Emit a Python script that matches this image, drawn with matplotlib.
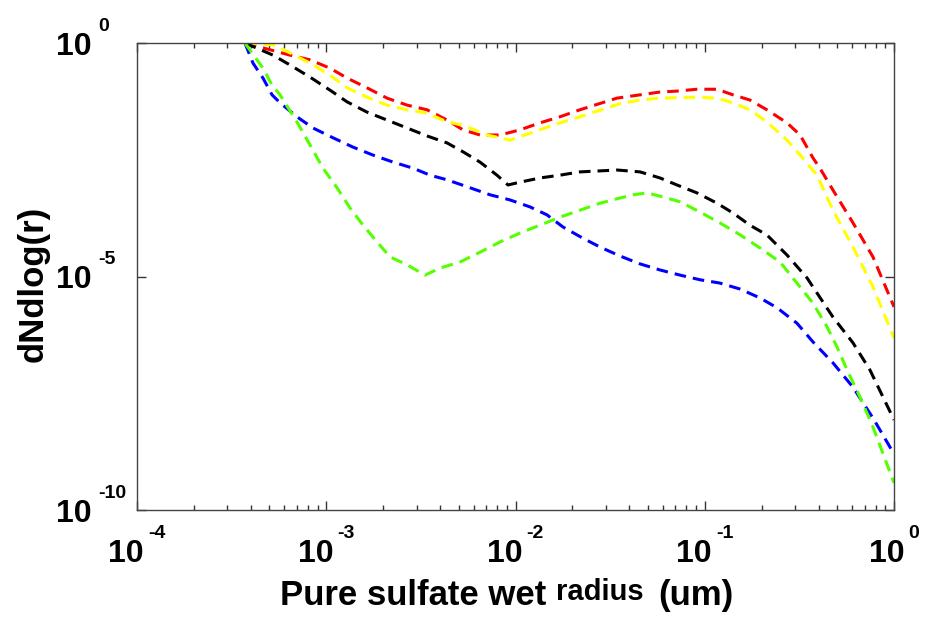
import numpy as np
import matplotlib
matplotlib.use("Agg")
import matplotlib.pyplot as plt

# ---------------- data (radius in um, dNdlog(r) stored as log10 exponents) ----------------
red_r = [3.72e-4, 6.43e-4, 8.20e-4, 1.047e-3, 1.288e-3, 1.642e-3, 2.094e-3, 2.672e-3,
         3.407e-3, 4.35e-3, 5.28e-3, 6.49e-3, 8.28e-3, 1.056e-2, 1.347e-2, 1.718e-2,
         2.19e-2, 3.44e-2, 4.55e-2, 5.80e-2, 7.13e-2, 9.10e-2, 0.116, 0.141, 0.173,
         0.213, 0.272, 0.319, 0.373, 0.406, 0.476, 0.607, 0.774, 1.0]
red_log = [0.0, -0.26, -0.36, -0.54, -0.75, -0.96, -1.18, -1.33,
           -1.43, -1.65, -1.86, -1.97, -1.97, -1.86, -1.71, -1.58,
           -1.43, -1.18, -1.11, -1.05, -1.03, -0.99, -0.99, -1.11, -1.22,
           -1.43, -1.71, -1.97, -2.46, -2.68, -3.15, -3.85, -4.58, -5.65]

yellow_r = [3.72e-4, 5.23e-4, 6.43e-4, 8.20e-4, 1.047e-3, 1.288e-3, 1.642e-3, 2.094e-3,
            2.672e-3, 3.407e-3, 4.35e-3, 5.28e-3, 7.07e-3, 9.35e-3, 1.193e-2, 1.718e-2,
            2.19e-2, 3.56e-2, 4.55e-2, 5.80e-2, 9.10e-2, 0.116, 0.141, 0.173, 0.213,
            0.272, 0.319, 0.392, 0.476, 0.607, 0.774, 1.0]
yellow_log = [0.0, -0.04, -0.21, -0.43, -0.69, -0.96, -1.16, -1.33,
              -1.43, -1.50, -1.69, -1.76, -1.97, -2.08, -1.93, -1.71,
              -1.58, -1.30, -1.22, -1.18, -1.16, -1.18, -1.28, -1.43, -1.69,
              -2.08, -2.40, -2.83, -3.58, -4.37, -5.22, -6.32]

black_r = [3.72e-4, 5.23e-4, 6.43e-4, 8.20e-4, 1.047e-3, 1.288e-3, 1.642e-3, 2.094e-3,
           2.672e-3, 3.407e-3, 4.35e-3, 5.28e-3, 6.49e-3, 7.98e-3, 9.13e-3, 1.056e-2,
           1.347e-2, 1.718e-2, 2.19e-2, 3.44e-2, 4.55e-2, 5.80e-2, 7.13e-2, 9.10e-2,
           0.116, 0.141, 0.173, 0.213, 0.272, 0.347, 0.476, 0.607, 0.746, 1.0]
black_log = [0.0, -0.26, -0.47, -0.73, -1.01, -1.26, -1.48, -1.65,
             -1.82, -1.99, -2.14, -2.33, -2.55, -2.83, -3.04, -2.98,
             -2.89, -2.83, -2.76, -2.72, -2.76, -2.89, -3.04, -3.21,
             -3.43, -3.64, -3.90, -4.11, -4.54, -5.03, -5.87, -6.42, -7.00, -8.07]

blue_r = [3.72e-4, 4.10e-4, 4.63e-4, 5.17e-4, 5.70e-4, 7.00e-4, 8.51e-4, 1.086e-3,
          1.385e-3, 1.766e-3, 2.253e-3, 2.873e-3, 3.534e-3, 4.35e-3, 5.75e-3, 7.33e-3,
          9.35e-3, 1.193e-2, 1.466e-2, 1.782e-2, 2.27e-2, 2.80e-2, 3.56e-2, 4.55e-2,
          5.80e-2, 7.40e-2, 9.44e-2, 0.120, 0.154, 0.196, 0.241, 0.307, 0.373, 0.476,
          0.607, 0.774, 1.0]
blue_log = [0.0, -0.43, -0.75, -1.11, -1.28, -1.58, -1.82, -2.03,
            -2.23, -2.40, -2.55, -2.68, -2.83, -2.93, -3.10, -3.25,
            -3.36, -3.51, -3.68, -3.94, -4.18, -4.37, -4.56, -4.73,
            -4.86, -4.97, -5.07, -5.14, -5.27, -5.46, -5.67, -6.00, -6.40, -6.85,
            -7.37, -8.03, -8.80]

green_r = [3.72e-4, 4.63e-4, 5.17e-4, 5.70e-4, 7.00e-4, 8.20e-4, 9.61e-4, 1.140e-3,
           1.334e-3, 1.564e-3, 1.855e-3, 2.172e-3, 2.672e-3, 3.325e-3, 3.99e-3, 5.09e-3,
           6.49e-3, 8.28e-3, 1.056e-2, 1.347e-2, 1.718e-2, 2.19e-2, 2.80e-2, 3.56e-2,
           4.18e-2, 4.95e-2, 5.80e-2, 7.40e-2, 9.44e-2, 0.120, 0.154, 0.196, 0.250,
           0.307, 0.373, 0.443, 0.500, 0.565, 0.661, 0.774, 1.0]
green_log = [0.0, -0.54, -0.90, -1.11, -1.69, -2.18, -2.68, -3.10,
             -3.53, -3.90, -4.26, -4.58, -4.75, -4.97, -4.82, -4.69,
             -4.48, -4.26, -4.07, -3.90, -3.73, -3.58, -3.43, -3.32,
             -3.25, -3.21, -3.28, -3.40, -3.62, -3.85, -4.11, -4.39, -4.69,
             -5.14, -5.57, -6.08, -6.51, -7.00, -7.58, -8.22, -9.42]

x_tick_exponents = [-4, -3, -2, -1, 0]
y_tick_exponents = [0, -5, -10]
x_label_parts = ["Pure sulfate wet", "radius", "(um)"]
y_label = "dNdlog(r)"

series = [
    (red_r, red_log, "#ff0000"),
    (yellow_r, yellow_log, "#ffff00"),
    (black_r, black_log, "#000000"),
    (blue_r, blue_log, "#0000ff"),
    (green_r, green_log, "#55ff00"),
]

# ---------------- figure ----------------
W, H = 926, 619
fig = plt.figure(figsize=(W / 100, H / 100), dpi=100)
L, R, T, B = 137, 894, 43, 510
ax = fig.add_axes([L / W, 1 - B / H, (R - L) / W, (B - T) / H])

for xs, ls, c in series:
    ax.plot(xs, np.power(10.0, ls), color=c, lw=2.2, linestyle=(0, (3.8, 2.3)),
            solid_capstyle="butt", dash_capstyle="butt")

ax.set_xscale("log")
ax.set_yscale("log")
ax.set_xlim(1e-4, 1)
ax.set_ylim(1e-10, 1)
ax.yaxis.set_major_locator(matplotlib.ticker.FixedLocator([10.0 ** e for e in y_tick_exponents]))
ax.yaxis.set_minor_locator(matplotlib.ticker.NullLocator())
ax.xaxis.set_major_locator(matplotlib.ticker.FixedLocator([10.0 ** e for e in x_tick_exponents]))
ax.xaxis.set_minor_locator(matplotlib.ticker.LogLocator(base=10, subs=np.arange(2, 10), numticks=20))
ax.tick_params(which="both", direction="in", top=True, right=True,
               labelbottom=False, labelleft=False, color="#333333", width=1.0)
ax.tick_params(which="major", length=6.5)
ax.tick_params(which="minor", length=3.5)
for s in ax.spines.values():
    s.set_color("#444444")
    s.set_linewidth(1.0)

font = "Liberation Sans"
big = dict(fontsize=23, fontweight="bold", family=font, color="black")
small = dict(fontsize=14, fontweight="bold", family=font, color="black")

fig.canvas.draw()
rend = fig.canvas.get_renderer()

# x tick labels: "10" + raised exponent, centred on the tick
gap = 4
for e in x_tick_exponents:
    t10 = ax.annotate("10", xy=(10.0 ** e, 0), xycoords=ax.get_xaxis_transform(),
                      xytext=(0, -52), textcoords="offset pixels", ha="left", va="baseline", **big)
    te = ax.annotate(str(e), xy=(10.0 ** e, 0), xycoords=ax.get_xaxis_transform(),
                     xytext=(0, -28), textcoords="offset pixels", ha="left", va="baseline", **small)
    w10 = t10.get_window_extent(rend).width
    we = te.get_window_extent(rend).width
    tot = w10 + gap + we
    t10.xyann = (-tot / 2, -52)
    te.xyann = (-tot / 2 + w10 + gap, -28)

# y tick labels
for e in y_tick_exponents:
    ax.annotate("10", xy=(0, 10.0 ** e), xycoords=ax.get_yaxis_transform(),
                xytext=(-45, -12), textcoords="offset pixels", ha="right", va="baseline", **big)
    ax.annotate(str(e), xy=(0, 10.0 ** e), xycoords=ax.get_yaxis_transform(),
                xytext=(-39, 12), textcoords="offset pixels", ha="left", va="baseline", **small)

# x label (three pieces, middle one smaller and raised)
lab = dict(fontweight="bold", family=font, color="black", va="baseline", ha="left")
fig.text(280 / W, 1 - 605 / H, x_label_parts[0], fontsize=25, **lab)
fig.text(556 / W, 1 - 600 / H, x_label_parts[1], fontsize=21, **lab)
fig.text(658 / W, 1 - 605 / H, x_label_parts[2], fontsize=25, **lab)

# y label
fig.text(33 / W, 1 - 284 / H, y_label, rotation=90, fontsize=25, fontweight="bold",
         family=font, ha="center", va="center", color="black")

fig.savefig("out.png", dpi=100)
